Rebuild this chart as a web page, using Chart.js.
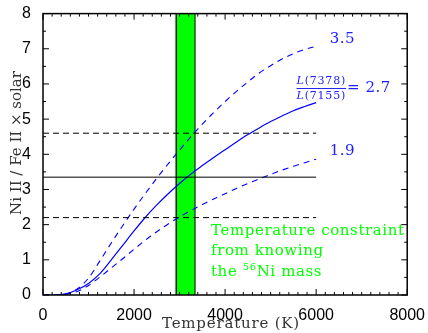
<!DOCTYPE html>
<html>
<head>
<meta charset="utf-8">
<script src="https://cdn.jsdelivr.net/npm/chart.js@4"></script>
<style>
  html, body { margin: 0; padding: 0; background: #fff; }
  #canvasArea { width: 428px; height: 333px; }
</style>
</head>
<body>
<div id="canvasArea"><canvas id="graphCanvas"></canvas></div>
<script>
// temperature grid (K)
var temps = [0, 250, 500, 750, 1000, 1250, 1500, 1750, 2000, 2250, 2500, 2750, 3000,
  3250, 3500, 3750, 4000, 4250, 4500, 4750, 5000, 5250, 5500, 5750, 6000];
// Ni II / Fe II for line ratio 2.7, 3.5 and 1.9
var ratio27 = [0, 0, 0.03, 0.15, 0.33, 0.61, 1.00, 1.41, 1.82, 2.21, 2.56, 2.88, 3.17,
  3.44, 3.68, 3.91, 4.13, 4.35, 4.56, 4.75, 4.93, 5.09, 5.24, 5.36, 5.47];
var ratio35 = [0, 0, 0.03, 0.17, 0.48, 0.97, 1.48, 1.97, 2.44, 2.89, 3.32, 3.73, 4.12,
  4.50, 4.86, 5.19, 5.50, 5.79, 6.06, 6.31, 6.52, 6.71, 6.86, 6.98, 7.07];
var ratio19 = [0, 0, 0.02, 0.10, 0.27, 0.51, 0.77, 1.03, 1.30, 1.56, 1.80, 2.02, 2.22,
  2.40, 2.57, 2.73, 2.88, 3.03, 3.17, 3.30, 3.43, 3.55, 3.66, 3.76, 3.86];
// observed abundance: best value and limits
var levels = [4.6, 3.35, 2.2];
var levelRange = [0, 6000];
// temperature band from the 56Ni mass
var bandT = [2930, 3340];
var xTicks = [0, 2000, 4000, 6000, 8000];
var yTicks = [0, 1, 2, 3, 4, 5, 6, 7, 8];

var blue = "#0000ff";
var serif = "'DejaVu Serif', serif";
var sans = "'Liberation Sans', Arial, sans-serif";

function pts(ys) {
  var out = [];
  for (var i in temps) out.push({ x: temps[i], y: ys[i] });
  return out;
}
function hline(v) {
  return [{ x: levelRange[0], y: v }, { x: levelRange[1], y: v }];
}

var datasets = [
  { data: hline(levels[0]), borderColor: "#000", borderWidth: 1, borderDash: [6, 4] },
  { data: hline(levels[1]), borderColor: "#000", borderWidth: 1 },
  { data: hline(levels[2]), borderColor: "#000", borderWidth: 1, borderDash: [6, 4] },
  { data: pts(ratio35), borderColor: blue, borderWidth: 1.1, borderDash: [6, 5], cubicInterpolationMode: "monotone" },
  { data: pts(ratio27), borderColor: blue, borderWidth: 1.2, cubicInterpolationMode: "monotone" },
  { data: pts(ratio19), borderColor: blue, borderWidth: 1.1, borderDash: [6, 5], cubicInterpolationMode: "monotone" }
];

var decor = {
  id: "decor",
  beforeDatasetsDraw: function (chart) {
    var ctx = chart.ctx, a = chart.chartArea, xs = chart.scales.x;
    var x0 = xs.getPixelForValue(bandT[0]), x1 = xs.getPixelForValue(bandT[1]);
    ctx.save();
    ctx.fillStyle = "#00ff00";
    ctx.fillRect(x0, a.top, x1 - x0, a.bottom - a.top);
    ctx.strokeStyle = "#888";
    ctx.lineWidth = 1;
    ctx.beginPath();
    ctx.moveTo(x0 - 1, a.top); ctx.lineTo(x0 - 1, a.bottom);
    ctx.stroke();
    ctx.strokeStyle = "#000";
    ctx.beginPath();
    ctx.moveTo(x0, a.top); ctx.lineTo(x0, a.bottom);
    ctx.moveTo(x1, a.top); ctx.lineTo(x1, a.bottom);
    ctx.stroke();
    ctx.restore();
  },
  afterDraw: function (chart) {
    var ctx = chart.ctx, a = chart.chartArea;
    var xs = chart.scales.x, ys = chart.scales.y;
    ctx.save();
    // frame and inward ticks on all four sides
    ctx.strokeStyle = "#000";
    ctx.lineWidth = 1.5;
    ctx.strokeRect(a.left, a.top, a.right - a.left, a.bottom - a.top);
    ctx.lineWidth = 1;
    ctx.beginPath();
    for (var t = 0; t <= 8000; t += 200) {
      var px = xs.getPixelForValue(t), len = t % 2000 === 0 ? 6 : 3;
      ctx.moveTo(px, a.bottom); ctx.lineTo(px, a.bottom - len);
      ctx.moveTo(px, a.top); ctx.lineTo(px, a.top + len);
    }
    for (var v = 0; v <= 8; v += 0.5) {
      var py = ys.getPixelForValue(v), l2 = v % 1 === 0 ? 6 : 3;
      ctx.moveTo(a.left, py); ctx.lineTo(a.left + l2, py);
      ctx.moveTo(a.right, py); ctx.lineTo(a.right - l2, py);
    }
    ctx.stroke();

    // curve labels
    ctx.fillStyle = "#2020ff";
    ctx.textBaseline = "middle";
    ctx.font = "15px " + serif;
    ctx.letterSpacing = "0.5px";
    ctx.fillText("3.5", xs.getPixelForValue(6300), ys.getPixelForValue(7.27));
    ctx.fillText("1.9", xs.getPixelForValue(6300), ys.getPixelForValue(4.1));
    var fx = xs.getPixelForValue(5570), fy = ys.getPixelForValue(5.87);
    ctx.letterSpacing = "0.8px";
    ctx.font = "italic 11px " + serif;
    var lw = ctx.measureText("L").width;
    ctx.fillText("L", fx, fy - 7);
    ctx.fillText("L", fx, fy + 8);
    ctx.font = "11px " + serif;
    ctx.fillText("(7378)", fx + lw, fy - 7);
    ctx.fillText("(7155)", fx + lw, fy + 8);
    var fw = lw + ctx.measureText("(7378)").width;
    ctx.fillRect(fx, fy - 0.5, fw, 1);
    ctx.letterSpacing = "0.5px";
    ctx.font = "15px " + serif;
    ctx.fillText("= 2.7", fx + fw + 1, fy);

    // green note
    ctx.fillStyle = "#00ff00";
    ctx.font = "15px " + serif;
    ctx.letterSpacing = "0.6px";
    var gx = xs.getPixelForValue(3690);
    ctx.fillText("Temperature constraint", gx, ys.getPixelForValue(1.82));
    ctx.fillText("from knowing", gx, ys.getPixelForValue(1.25));
    var gy = ys.getPixelForValue(0.65);
    ctx.fillText("the ", gx, gy);
    var w1 = ctx.measureText("the ").width;
    ctx.font = "10px " + serif;
    ctx.fillText("56", gx + w1, gy - 5);
    var w2 = ctx.measureText("56").width;
    ctx.font = "15px " + serif;
    ctx.fillText("Ni mass", gx + w1 + w2, gy);

    // axis titles
    ctx.fillStyle = "#333";
    ctx.font = "15px " + serif;
    ctx.letterSpacing = "0.8px";
    ctx.textAlign = "center";
    ctx.fillText("Temperature (K)", 231, 324);
    ctx.letterSpacing = "0px";
    ctx.translate(17, 143);
    ctx.rotate(-Math.PI / 2);
    ctx.fillText("Ni II / Fe II \u00d7 solar", 0, 0);
    ctx.restore();
  }
};

new Chart(document.getElementById("graphCanvas"), {
  type: "line",
  data: { datasets: datasets },
  options: {
    responsive: true,
    maintainAspectRatio: false,
    animation: false,
    events: [],
    layout: { padding: { top: 13, right: 20, left: 0, bottom: 0 } },
    elements: { point: { radius: 0 } },
    plugins: { legend: { display: false }, tooltip: { enabled: false } },
    scales: {
      x: {
        type: "linear", min: 0, max: 8000,
        grid: { display: false }, border: { display: false },
        afterFit: function (s) { s.height = 38; },
        afterBuildTicks: function (s) { s.ticks = xTicks.map(function (v) { return { value: v }; }); },
        ticks: { autoSkip: false, maxRotation: 0, padding: 3, color: "#000",
          font: { family: sans, size: 16 },
          callback: function (v) { return String(v); } }
      },
      y: {
        type: "linear", min: 0, max: 8,
        grid: { display: false }, border: { display: false },
        afterFit: function (s) { s.width = 43; },
        afterBuildTicks: function (s) { s.ticks = yTicks.map(function (v) { return { value: v }; }); },
        ticks: { padding: 4, color: "#000",
          font: { family: sans, size: 16 },
          callback: function (v) { return String(v); } }
      }
    }
  },
  plugins: [decor]
});
</script>
</body>
</html>
